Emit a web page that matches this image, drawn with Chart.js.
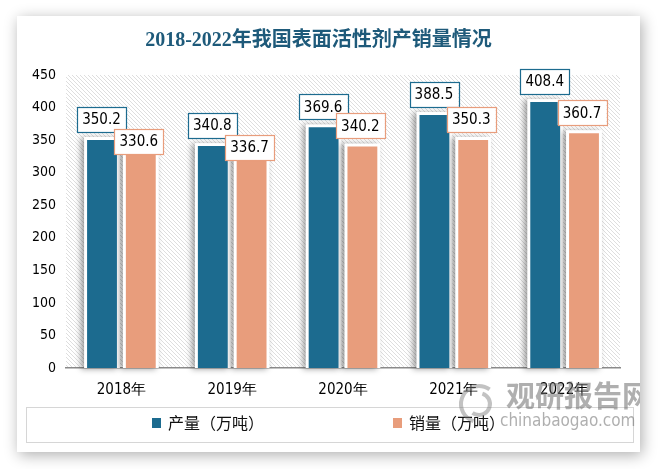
<!DOCTYPE html>
<html>
<head>
<meta charset="utf-8">
<script src="https://cdn.jsdelivr.net/npm/chart.js@4.4.0/dist/chart.umd.min.js"></script>
<style>
  html, body { margin: 0; padding: 0; background: #ffffff; width: 658px; height: 469px; overflow: hidden; }
  #card { position: absolute; left: 17px; top: 16px; width: 623px; height: 436px; background: #fff;
          box-shadow: 2px 3px 14px rgba(0,0,0,0.32); }
  #card canvas { position: absolute; left: 0; top: 0; }
</style>
</head>
<body>
<div id="card"><canvas id="c" width="623" height="436"></canvas></div>
<script>
const titleText = '2018-2022年我国表面活性剂产销量情况';
const categories = ['2018年', '2019年', '2020年', '2021年', '2022年'];
const productionValues = [350.2, 340.8, 369.6, 388.5, 408.4];
const salesValues = [330.6, 336.7, 340.2, 350.3, 360.7];
const seriesLabels = ['产量（万吨）', '销量（万吨）'];
const yMin = 0, yMax = 450, yStep = 50;

const BLUE = '#1c6b8f';
const ORANGE = '#e89d7c';
const SANS = "'DejaVu Sans Condensed', 'DejaVu Sans', sans-serif";
const CJK = "'Noto Sans CJK SC', sans-serif";

function makeHatch() {
  const t = document.createElement('canvas');
  t.width = 4; t.height = 4;
  const g = t.getContext('2d');
  g.fillStyle = '#ffffff';
  g.fillRect(0, 0, 4, 4);
  g.strokeStyle = '#dedede';
  g.lineWidth = 1;
  g.beginPath();
  g.moveTo(0, 0); g.lineTo(4, 4);
  g.moveTo(-1, 3); g.lineTo(1, 5);
  g.moveTo(3, -1); g.lineTo(5, 1);
  g.stroke();
  return t;
}

const hatchPlugin = {
  id: 'hatch',
  beforeDraw(chart) {
    const { ctx, chartArea: a } = chart;
    ctx.save();
    ctx.fillStyle = ctx.createPattern(makeHatch(), 'repeat');
    ctx.fillRect(a.left, a.top, a.right - a.left, a.bottom - a.top);
    ctx.restore();
  }
};

const frameShadowPlugin = {
  id: 'frameShadow',
  beforeDatasetsDraw(chart) {
    const ctx = chart.ctx;
    ctx.save();
    chart.data.datasets.forEach((ds, di) => {
      const meta = chart.getDatasetMeta(di);
      meta.data.forEach(bar => {
        const p = bar.getProps(['x', 'y', 'base', 'width'], true);
        ctx.shadowColor = 'rgba(0,0,0,0.38)';
        ctx.shadowBlur = 6;
        ctx.shadowOffsetX = -3;
        ctx.shadowOffsetY = 1;
        ctx.fillStyle = '#ffffff';
        ctx.fillRect(p.x - p.width / 2 - 3, p.y - 3, p.width + 6, p.base - p.y + 3);
      });
    });
    ctx.restore();
  }
};

const labelPlugin = {
  id: 'valueLabels',
  afterDatasetsDraw(chart) {
    const ctx = chart.ctx;
    ctx.save();
    ctx.font = '15px ' + SANS;
    ctx.textAlign = 'center';
    ctx.textBaseline = 'middle';
    const boxes = [];
    chart.data.datasets.forEach((ds, di) => {
      const meta = chart.getDatasetMeta(di);
      meta.data.forEach((bar, i) => {
        const p = bar.getProps(['x', 'y'], true);
        const txt = ds.data[i].toFixed(1);
        const w = ctx.measureText(txt).width + 10;
        const h = 25;
        const cx = di === 0 ? p.x - 0.5 : p.x - 2;
        let top = p.y - 8 - h;
        if (di === 1 && boxes[i]) {
          const b = boxes[i];
          const hOverlap = Math.min(b.x + b.w, cx + w / 2) - Math.max(b.x, cx - w / 2);
          const vOverlap = (b.y + b.h) - top;
          if (hOverlap > 0 && vOverlap > 10) top = b.y + b.h - 3;
        }
        if (di === 0) boxes[i] = { x: cx - w / 2, y: top, w, h };
        ctx.fillStyle = '#ffffff';
        ctx.fillRect(cx - w / 2, top, w, h);
        ctx.strokeStyle = ds.backgroundColor;
        ctx.lineWidth = 1.2;
        ctx.strokeRect(Math.round(cx - w / 2) + 0.5, Math.round(top) + 0.5, Math.round(w), h);
        ctx.fillStyle = '#000000';
        ctx.fillText(txt, cx, top + h / 2 + 1);
      });
    });
    ctx.restore();
  }
};

const legendPlugin = {
  id: 'boxLegend',
  afterDraw(chart) {
    const ctx = chart.ctx;
    ctx.save();
    ctx.strokeStyle = '#d6d6d6';
    ctx.lineWidth = 1;
    ctx.strokeRect(9.5, 391.5, 607, 35);
    const items = [{ x: 135 }, { x: 376 }];
    ctx.font = '16px ' + CJK;
    ctx.textBaseline = 'middle';
    ctx.textAlign = 'left';
    chart.data.datasets.forEach((ds, di) => {
      const it = items[di];
      ctx.fillStyle = ds.backgroundColor;
      ctx.fillRect(it.x, 402, 9, 10);
      ctx.fillStyle = '#111111';
      ctx.fillText(ds.label, it.x + 16, 407);
    });
    // watermark
    ctx.fillStyle = 'rgba(110,110,110,0.55)';
    ctx.font = 'bold 29px ' + CJK;
    ctx.fillText('观研报告网', 489, 380);
    ctx.font = '17px ' + SANS;
    ctx.fillText('chinabaogao.com', 483, 406);
    ctx.strokeStyle = 'rgba(120,120,120,0.45)';
    ctx.lineWidth = 4;
    ctx.beginPath(); ctx.arc(462, 388, 18, Math.PI * 0.6, Math.PI * 1.7); ctx.stroke();
    ctx.beginPath(); ctx.arc(462, 388, 11, Math.PI * 1.6, Math.PI * 2.7); ctx.stroke();
    ctx.restore();
  }
};

new Chart(document.getElementById('c'), {
  type: 'bar',
  data: {
    labels: categories,
    datasets: [
      { label: seriesLabels[0], data: productionValues, backgroundColor: BLUE, borderWidth: 0,
        categoryPercentage: 0.70, barPercentage: 0.77 },
      { label: seriesLabels[1], data: salesValues, backgroundColor: ORANGE, borderWidth: 0,
        categoryPercentage: 0.70, barPercentage: 0.77 }
    ]
  },
  options: {
    responsive: false,
    animation: false,
    devicePixelRatio: 1,
    layout: { padding: { left: 0, right: 20, top: 0, bottom: 44 } },
    plugins: {
      legend: { display: false },
      tooltip: { enabled: false },
      title: {
        display: true,
        text: titleText,
        color: '#1e5a7a',
        font: { family: "'Liberation Serif', 'Noto Sans CJK SC', serif", size: 20, weight: 'bold' },
        padding: { top: 13, bottom: 22 }
      }
    },
    scales: {
      x: {
        grid: { display: false, drawTicks: false },
        border: { display: true, color: '#8a8a8a', width: 1.5 },
        ticks: { color: '#000000', font: { family: SANS, size: 15 }, padding: 13 },
        afterFit(s) { s.height = 40; }
      },
      y: {
        min: yMin, max: yMax,
        grid: { display: false, drawTicks: false },
        border: { display: false },
        ticks: { stepSize: yStep, color: '#000000', font: { family: SANS, size: 14 }, padding: 10 },
        afterFit(s) { s.width = 49; }
      }
    }
  },
  plugins: [hatchPlugin, frameShadowPlugin, labelPlugin, legendPlugin]
});
</script>
</body>
</html>
